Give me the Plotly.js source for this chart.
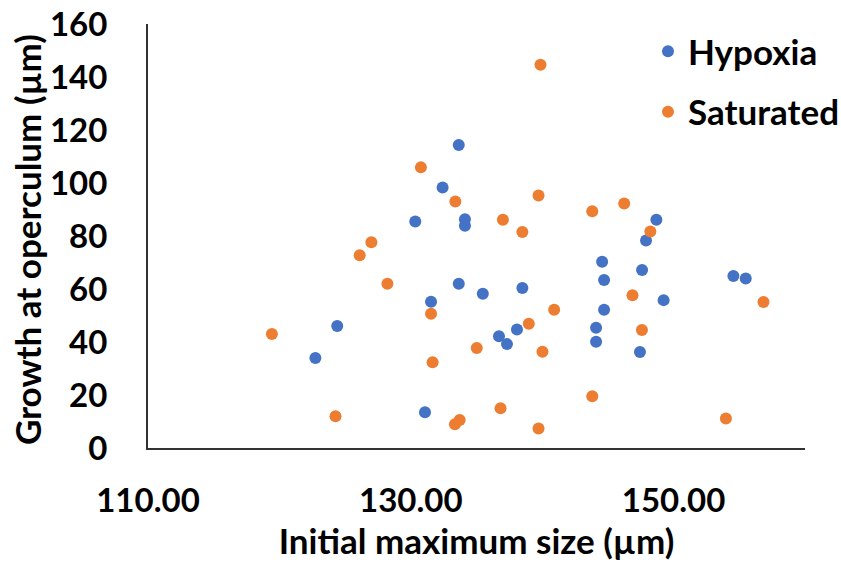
<!DOCTYPE html>
<html>
<head>
<meta charset="utf-8">
<script src="https://cdn.plot.ly/plotly-3.0.1.min.js"></script>
<style>html,body{margin:0;padding:0;background:#fff;}#chart{width:841px;height:563px;}</style>
</head>
<body>
<div id="chart"></div>
<script>
// Hypoxia series
const hypoxiaX = [122.74, 124.40, 131.08, 131.54, 130.34, 132.42, 133.65, 134.12, 134.12, 133.65,
                  135.48, 138.49, 136.71, 137.32, 138.08, 144.56, 144.71, 144.71, 144.10, 144.10,
                  147.60, 147.44, 149.24, 148.69, 147.90, 154.55, 155.49];
const hypoxiaY = [34.0, 46.0, 13.5, 55.2, 85.5, 98.3, 114.3, 86.3, 83.9, 62.0,
                  58.2, 60.4, 42.2, 39.2, 44.7, 70.3, 63.4, 52.2, 45.4, 40.1,
                  67.2, 36.2, 55.8, 86.1, 78.3, 64.9, 64.0];
// Saturated series
const saturatedX = [119.43, 124.27, 126.11, 127.00, 128.22, 130.77, 131.54, 131.66, 133.39, 139.87,
                    137.01, 138.49, 139.72, 143.81, 146.24, 148.23, 146.87, 147.59, 156.84, 135.02,
                    138.98, 140.91, 140.02, 136.83, 133.36, 133.72, 139.72, 143.81, 153.98];
const saturatedY = [43.0, 12.0, 72.7, 77.6, 62.0, 105.9, 50.7, 32.4, 93.0, 144.6,
                    86.1, 81.5, 95.3, 89.3, 92.3, 81.7, 57.6, 44.5, 55.1, 37.7,
                    46.9, 52.2, 36.3, 15.0, 9.0, 10.6, 7.4, 19.5, 11.1];
const seriesNames = ["Hypoxia", "Saturated"];
const xTitle = "Initial maximum size (µm)";
const yTitle = "Growth at operculum (µm)";

const FONT = "Lato, 'Open Sans', sans-serif";
const tf = (s) => ({family: FONT, size: s, color: "#000", weight: "bold"});

const traces = [
  {x: hypoxiaX, y: hypoxiaY, name: seriesNames[0], type: "scatter", mode: "markers",
   legendgroup: "a", marker: {color: "#4472C4", size: 12}},
  {x: saturatedX, y: saturatedY, name: seriesNames[1], type: "scatter", mode: "markers",
   legendgroup: "b", marker: {color: "#ED7D31", size: 12}}
];

const layout = {
  width: 841, height: 563,
  margin: {l: 148, r: 36, t: 24, b: 115, pad: 0, autoexpand: false},
  paper_bgcolor: "#fff", plot_bgcolor: "#fff",
  font: tf(35),
  showlegend: true,
  legend: {xref: "container", yref: "container", x: 0.7705, xanchor: "left", y: 0.961, yanchor: "top",
           bgcolor: "rgba(0,0,0,0)", tracegroupgap: 12,
           font: tf(35)},
  xaxis: {
    range: [110, 160], tick0: 110, dtick: 20, tickformat: ".2f",
    showgrid: false, zeroline: false, showline: true, linecolor: "#333", linewidth: 2,
    ticks: "", ticklabelstandoff: 22,
    tickfont: tf(33),
    title: {text: xTitle, standoff: 8, font: tf(35)},
    automargin: false, fixedrange: true
  },
  yaxis: {
    range: [0, 160], tick0: 0, dtick: 20,
    showgrid: false, zeroline: false, showline: true, linecolor: "#333", linewidth: 2,
    ticks: "", ticklabelstandoff: 32,
    tickfont: tf(33),
    automargin: false, fixedrange: true
  },
  annotations: [{
    text: yTitle, textangle: -90, showarrow: false,
    xref: "paper", yref: "paper", x: -0.184, y: 0.4906,
    xanchor: "center", yanchor: "middle", font: tf(35)
  }]
};

Plotly.newPlot("chart", traces, layout, {displayModeBar: false, staticPlot: true});
</script>
</body>
</html>
